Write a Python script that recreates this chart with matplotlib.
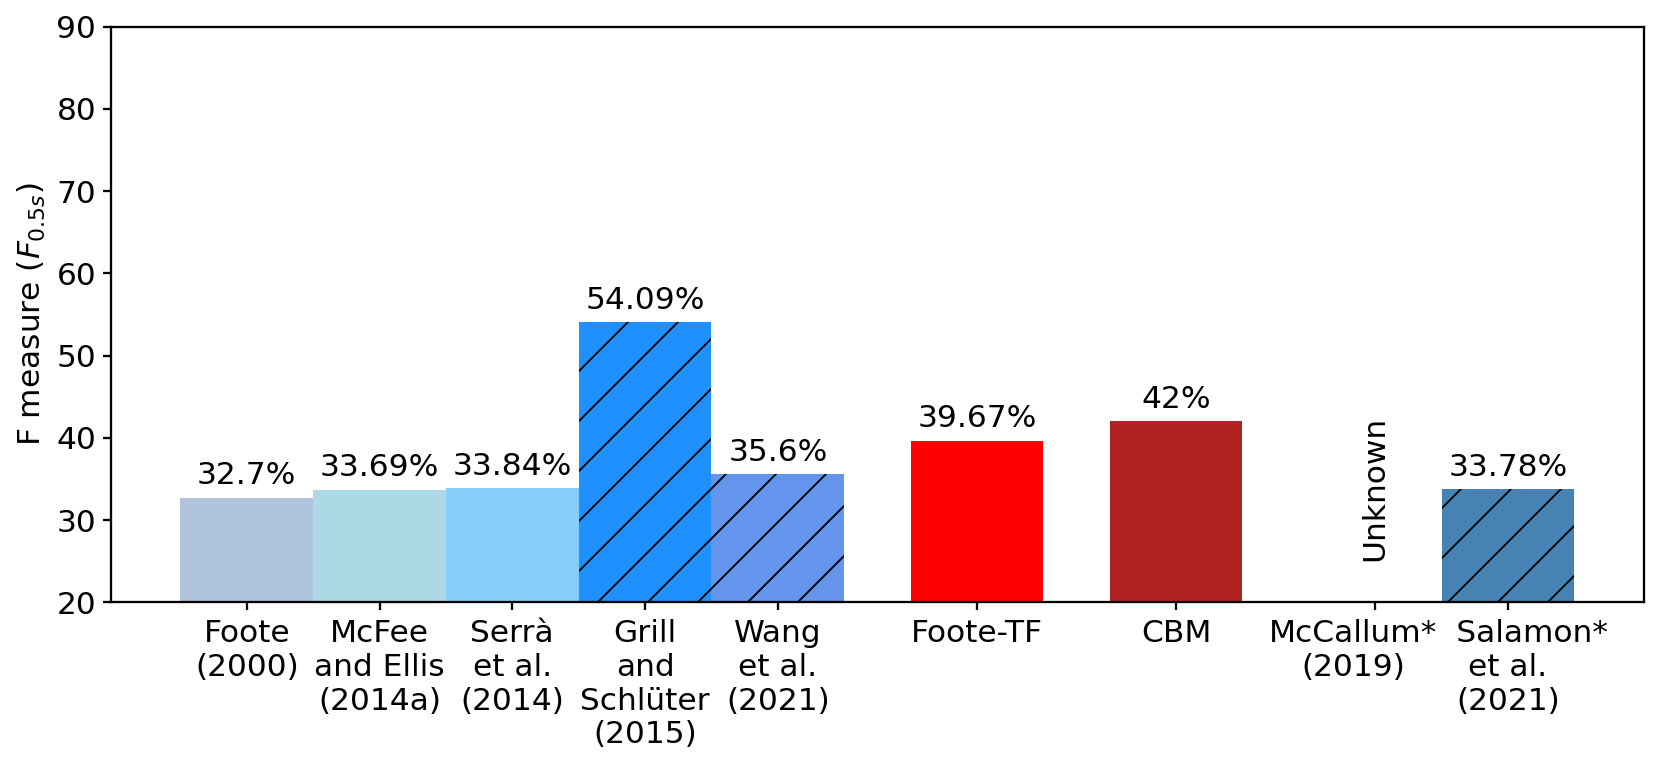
import numpy as np
import matplotlib
matplotlib.use("Agg")
import matplotlib.pyplot as plt
from matplotlib.transforms import ScaledTranslation

# ---- data ----
labels = ["Foote\n(2000)", "McFee\nand Ellis\n(2014a)", "Serrà\net al.\n(2014)",
          "Grill\nand\nSchlüter\n(2015)", "Wang\net al.\n(2021)", "Foote-TF", "CBM",
          "McCallum*\n(2019)", "     Salamon*\net al.\n(2021)"]
values = [32.7, 33.69, 33.84, 54.09, 35.6, 39.67, 42.0, None, 33.78]
colors = ["lightsteelblue", "lightblue", "lightskyblue", "dodgerblue", "cornflowerblue",
          "red", "firebrick", "white", "steelblue"]
hatches = [None, None, None, "//", "//", None, None, None, "//"]

# layout: gaps between groups
positions = [0, 1, 2, 3, 4, 5.5, 7, 8.5, 9.5]

plt.rcParams["font.family"] = "DejaVu Sans"
plt.rcParams["hatch.linewidth"] = 0.45
plt.rcParams["axes.linewidth"] = 0.55

DPI = 300
fig = plt.figure(figsize=(1660 / DPI, 770 / DPI), dpi=DPI)
ax = fig.add_axes([0.0667, 0.2178, 0.9237, 0.7475])

fs = 7.5
for x, v, c, h in zip(positions, values, colors, hatches):
    if v is None:
        ax.text(x, 25.0, "Unknown", rotation=90, ha="center", va="bottom", fontsize=fs)
        continue
    ax.bar(x, v, width=1.0, color=c, hatch=h, edgecolor="black" if h else c, linewidth=0)
    ax.text(x, v + 0.9, f"{v:g}%", ha="center", va="bottom", fontsize=fs)

# invisible placeholder so default margins span the full category range
ax.bar(positions[7], 0, width=1.0, color="none")

ax.set_ylim(20, 90)
ax.set_xticks(positions)
ax.set_xticklabels(labels, fontsize=fs)
ax.tick_params(axis="both", labelsize=fs, length=1.9, width=0.55)
ax.tick_params(axis="y", pad=1.6)
ax.tick_params(axis="x", pad=2.2)
ax.set_ylabel(r"F measure ($F_{0.5s}$)", fontsize=fs, labelpad=2)

# McCallum label sits slightly left of its tick in the reference
lab = ax.get_xticklabels()[7]
lab.set_transform(lab.get_transform() + ScaledTranslation(-22 / DPI, 0, fig.dpi_scale_trans))

fig.savefig("out.png", dpi=DPI)
